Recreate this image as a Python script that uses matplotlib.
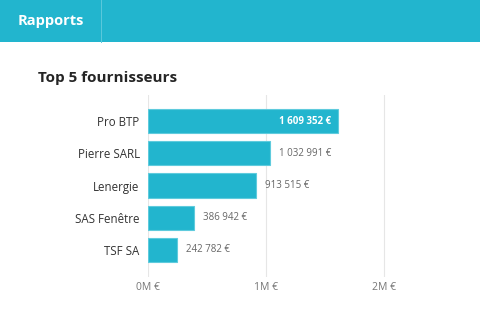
import matplotlib.pyplot as plt
from matplotlib.patches import Rectangle

#----Data----#
fournisseurs = ["Pro BTP", "Pierre SARL", "Lenergie", "SAS Fenêtre", "TSF SA"]
montants = [1609352, 1032991, 913515, 386942, 242782]
ticks = [0, 1000000, 2000000]
tick_labels = ["0M €", "1M €", "2M €"]

bleu = "#22b5ce"
plt.rcParams['font.family'] = ['Open Sans', 'DejaVu Sans']


def fmt(v):
    return "{:,}".format(v).replace(",", " ") + " €"


fig = plt.figure(figsize=(4.8, 3.1), dpi=100)

#----Header band----#
fig.patches.append(Rectangle((0, 1 - 42 / 310), 1, 42 / 310, transform=fig.transFigure,
                             facecolor=bleu, edgecolor="none", zorder=0))
fig.lines.append(plt.Line2D([101 / 480, 101 / 480], [1 - 42 / 310, 1], transform=fig.transFigure,
                            color="#5cc9dc", linewidth=0.7))
fig.text(18 / 480, 1 - 21 / 310, "Rapports", color="white", fontsize=10.5, fontweight="bold",
         va="center", ha="left")
fig.text(38 / 480, 1 - 78 / 310, "Top 5 fournisseurs", color="#252525", fontsize=11,
         fontweight="bold", va="center", ha="left")

#----Chart----#
ax = fig.add_axes([148 / 480, 1 - 277 / 310, (470 - 148) / 480, (277 - 95) / 310])
y = list(range(len(fournisseurs)))
ax.barh(y, montants, height=0.75, color=bleu, edgecolor="#5fcbdd", linewidth=0.8, zorder=2)
ax.set_ylim(len(fournisseurs) - 1 + 0.84, -0.81)
ax.set_xlim(0, 2.73e6)
ax.set_yticks(y)
ax.set_yticklabels(fournisseurs, fontsize=8.3, color="#333333")
ax.set_xticks(ticks)
ax.set_xticklabels(tick_labels, fontsize=7.5, color="#777777")
ax.tick_params(axis="both", length=0)
ax.tick_params(axis="y", pad=6)
ax.tick_params(axis="x", pad=3.5)
for s in ax.spines.values():
    s.set_visible(False)
ax.grid(axis="x", color="#e6e6e6", linewidth=0.8, zorder=0)
ax.set_axisbelow(True)

for i, v in enumerate(montants):
    if i == 0:
        ax.annotate(fmt(v), (v, i), xytext=(-5, 0), textcoords="offset points",
                    ha="right", va="center", fontsize=7, color="white", fontweight="bold")
    else:
        ax.annotate(fmt(v), (v, i), xytext=(6.5, 0), textcoords="offset points",
                    ha="left", va="center", fontsize=7, color="#666666")

fig.savefig("out.png", dpi=100)
